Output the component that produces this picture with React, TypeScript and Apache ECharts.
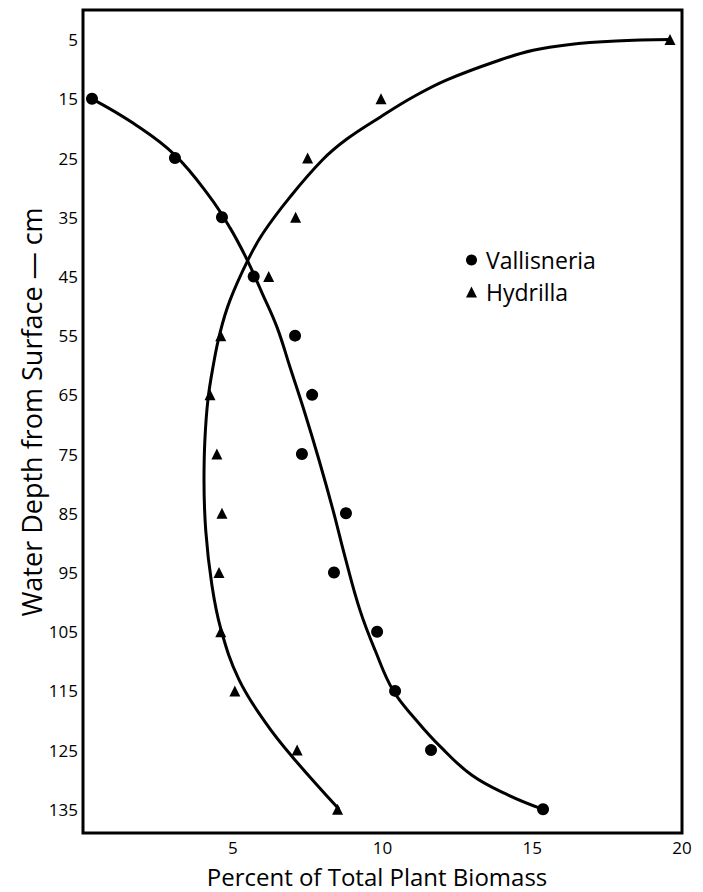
import React, { useEffect, useRef } from "react";
import * as echarts from "echarts";

// Measured points (percent of total plant biomass at each depth)
const vallisneriaDepths = [15, 25, 35, 45, 55, 65, 75, 85, 95, 105, 115, 125, 135];
const vallisneriaValues = [0.3, 3.07, 4.64, 5.7, 7.08, 7.65, 7.31, 8.78, 8.38, 9.82, 10.42, 11.62, 15.36];

const hydrillaDepths = [5, 15, 25, 35, 45, 55, 65, 75, 85, 95, 105, 115, 125, 135];
const hydrillaValues = [19.6, 9.95, 7.5, 7.1, 6.2, 4.6, 4.24, 4.47, 4.64, 4.54, 4.6, 5.07, 7.15, 8.5];

// Hand-drawn fitted curves
const vallisneriaCurveX = [0.3, 1.67, 3.07, 4.24, 4.91, 5.48, 5.98, 6.48, 6.91, 7.41, 7.88, 8.35, 8.75, 9.25, 9.75, 10.35, 11.12, 11.95, 13.0, 14.2, 15.36];
const vallisneriaCurveY = [15, 19.1, 24.5, 31.6, 36.8, 42.2, 47.8, 53.6, 60.3, 68.1, 76.0, 84.5, 92.4, 101.4, 108.1, 114.9, 119.9, 124.5, 129.3, 132.6, 135];

const hydrillaCurveX = [19.6, 17.8, 16.2, 15.03, 13.92, 12.15, 11.02, 9.92, 8.81, 8.0, 6.91, 6.01, 5.51, 4.91, 4.57, 4.34, 4.17, 4.07, 4.04, 4.1, 4.3, 4.6, 5.2, 6.1, 7.0, 8.55];
const hydrillaCurveY = [5, 5.25, 5.85, 6.8, 8.45, 11.8, 14.7, 18.1, 21.8, 25.3, 31.6, 37.7, 42.2, 49.0, 54.6, 60.3, 65.9, 72.6, 79.4, 88, 97, 104.5, 113, 120.4, 126.2, 135];

const xTicks = [5, 10, 15, 20];
const yTicks = [5, 15, 25, 35, 45, 55, 65, 75, 85, 95, 105, 115, 125, 135];

const FONT = "'Open Sans', Lato, sans-serif";

export default function App() {
  const ref = useRef<HTMLDivElement>(null);
  useEffect(() => {
    document.body.style.margin = "0";
    if (!ref.current) return;
    const chart = echarts.init(ref.current, undefined, { renderer: "svg" });
    const zip = (xs: number[], ys: number[]) => xs.map((x, i) => [x, ys[i]]);
    chart.setOption({
      animation: false,
      backgroundColor: "#fff",
      grid: {
        left: 83,
        right: 21,
        top: 10,
        bottom: 59,
        show: true,
        borderColor: "#000",
        borderWidth: 3,
      },
      legend: {
        orient: "vertical",
        left: 461,
        top: 243,
        itemWidth: 11,
        itemHeight: 11,
        itemGap: 8,
        data: ["Vallisneria", "Hydrilla"],
        textStyle: {
          fontFamily: FONT,
          fontSize: 23,
          color: "#000",
          lineHeight: 24,
          padding: [0, 0, 0, 4],
        },
      },
      xAxis: {
        type: "value",
        min: 0,
        max: 20,
        interval: 5,
        splitLine: { show: false },
        axisLine: { show: false },
        axisTick: { show: false },
        axisLabel: {
          margin: 6,
          fontFamily: FONT,
          fontSize: 17,
          lineHeight: 17,
          color: "#000",
          formatter: (v: number) => (xTicks.includes(v) ? String(v) : ""),
        },
      },
      yAxis: {
        type: "value",
        inverse: true,
        min: 0,
        max: 139,
        interval: 5,
        splitLine: { show: false },
        axisLine: { show: false },
        axisTick: { show: false },
        axisLabel: {
          margin: 5,
          fontFamily: FONT,
          fontSize: 17,
          color: "#000",
          formatter: (v: number) => (yTicks.includes(v) ? String(v) : ""),
        },
      },
      graphic: [
        {
          type: "text",
          x: 377,
          y: 876,
          style: {
            text: "Percent of Total Plant Biomass",
            fontFamily: FONT,
            fontSize: 24,
            lineHeight: 19,
            fill: "#000",
            align: "center",
            verticalAlign: "middle",
          },
        },
        {
          type: "text",
          x: 31,
          y: 412,
          rotation: Math.PI / 2,
          style: {
            text: "Water Depth from Surface — cm",
            fontFamily: FONT,
            fontSize: 27,
            fill: "#000",
            align: "center",
            verticalAlign: "middle",
          },
        },
      ],
      series: [
        {
          name: "Vallisneria curve",
          type: "line",
          data: zip(vallisneriaCurveX, vallisneriaCurveY),
          smooth: 0.4,
          showSymbol: false,
          symbol: "none",
          lineStyle: { color: "#000", width: 3 },
          z: 2,
        },
        {
          name: "Hydrilla curve",
          type: "line",
          data: zip(hydrillaCurveX, hydrillaCurveY),
          smooth: 0.4,
          showSymbol: false,
          symbol: "none",
          lineStyle: { color: "#000", width: 3 },
          z: 2,
        },
        {
          name: "Vallisneria",
          type: "scatter",
          symbol: "circle",
          symbolSize: 12,
          itemStyle: { color: "#000", opacity: 1 },
          data: zip(vallisneriaValues, vallisneriaDepths),
          z: 3,
        },
        {
          name: "Hydrilla",
          type: "scatter",
          symbol: "triangle",
          symbolSize: 11,
          itemStyle: { color: "#000", opacity: 1 },
          data: zip(hydrillaValues, hydrillaDepths),
          z: 3,
        },
      ],
    });
    return () => chart.dispose();
  }, []);
  return <div ref={ref} style={{ width: 703, height: 892 }} />;
}
